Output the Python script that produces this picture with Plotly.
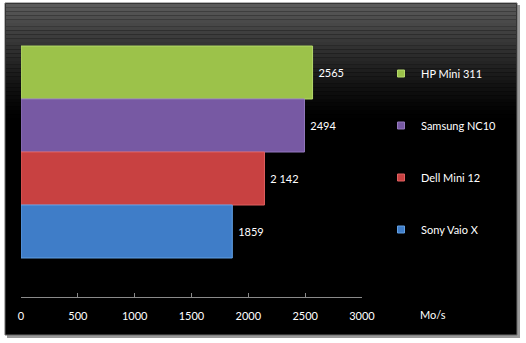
import plotly.graph_objects as go

# Data
laptops = ["HP Mini 311", "Samsung NC10", "Dell Mini 12", "Sony Vaio X"]
speeds = [2565, 2494, 2142, 1859]
speed_labels = ["2565", "2494", "2 142", "1859"]
colors = ["#9CC24A", "#7759A3", "#C84141", "#3F7DC8"]
edge_colors = ["#B4D96A", "#9479BE", "#E06060", "#62A0E4"]
tick_vals = [0, 500, 1000, 1500, 2000, 2500, 3000]
unit_label = "Mo/s"

W, H = 526, 343
FONT = "Lato, 'Open Sans', sans-serif"

fig = go.Figure()

for name, v, lab, c, ec in zip(laptops, speeds, speed_labels, colors, edge_colors):
    fig.add_trace(go.Bar(
        y=[name], x=[v], orientation="h", width=1,
        marker=dict(color=c, line=dict(color=ec, width=1)),
        text=[lab], texttemplate=" %{text}", textposition="outside", cliponaxis=False,
        textfont=dict(color="white", size=11, family=FONT),
        showlegend=False, hoverinfo="skip",
    ))
    fig.add_trace(go.Scatter(
        x=[None], y=[None], mode="markers", name=name, legendgroup=name,
        marker=dict(symbol="square", size=7, color=c, line=dict(color=ec, width=1)),
    ))

def px_x(p):
    return p / W

def px_y(p):
    return 1 - p / H

shapes = []
# shadow
shapes.append(dict(type="rect", xref="paper", yref="paper", layer="below",
                   x0=px_x(7), x1=px_x(520), y0=px_y(338), y1=px_y(5),
                   fillcolor="#9a9a9a", line=dict(width=0)))
# panel base
shapes.append(dict(type="rect", xref="paper", yref="paper", layer="below",
                   x0=px_x(5), x1=px_x(517), y0=px_y(335), y1=px_y(3),
                   fillcolor="#000000", line=dict(color="#6a6a6a", width=1)))
# top gradient strips
n = 30
top, bot = 4, 118
for i in range(n):
    y0p = top + (bot - top) * i / n
    y1p = top + (bot - top) * (i + 1) / n
    g = int(90 * (1 - i / n) ** 1.3)
    shapes.append(dict(type="rect", xref="paper", yref="paper", layer="below",
                       x0=px_x(6), x1=px_x(516), y0=px_y(y1p), y1=px_y(y0p),
                       fillcolor=f"rgb({g},{g},{g})", line=dict(width=0)))

fig.update_layout(
    width=W, height=H,
    autosize=False,
    margin=dict(l=0, r=0, t=0, b=0, pad=0, autoexpand=False),
    paper_bgcolor="white", plot_bgcolor="rgba(0,0,0,0)",
    barmode="overlay",
    shapes=shapes,
    font=dict(family=FONT, color="white", size=11),
    xaxis=dict(domain=[px_x(21), px_x(362)], range=[0, 3000], tickvals=tick_vals,
               showgrid=False, zeroline=False, showline=True, linecolor="#8a8a8a",
               ticks="inside", ticklen=4, tickcolor="#8a8a8a",
               tickfont=dict(color="white", size=11, family=FONT),
               ticklabelstandoff=9, fixedrange=True),
    yaxis=dict(domain=[px_y(297), px_y(7)], type="category",
               categoryorder="array", categoryarray=laptops[::-1],
               range=[-1.236, 4.236], showticklabels=False, showgrid=False,
               zeroline=False, showline=False, ticks=""),
    legend=dict(x=px_x(381), y=px_y(59), xanchor="left", yanchor="top",
                bgcolor="rgba(0,0,0,0)", font=dict(color="white", size=11, family=FONT),
                traceorder="grouped", tracegroupgap=33, itemwidth=30),
    annotations=[dict(text=unit_label, xref="paper", yref="paper",
                      x=px_x(433), y=px_y(314), xanchor="center", yanchor="middle",
                      showarrow=False,
                      font=dict(color="white", size=11, family=FONT))],
)

fig.write_html("out.html", config={"responsive": False})
